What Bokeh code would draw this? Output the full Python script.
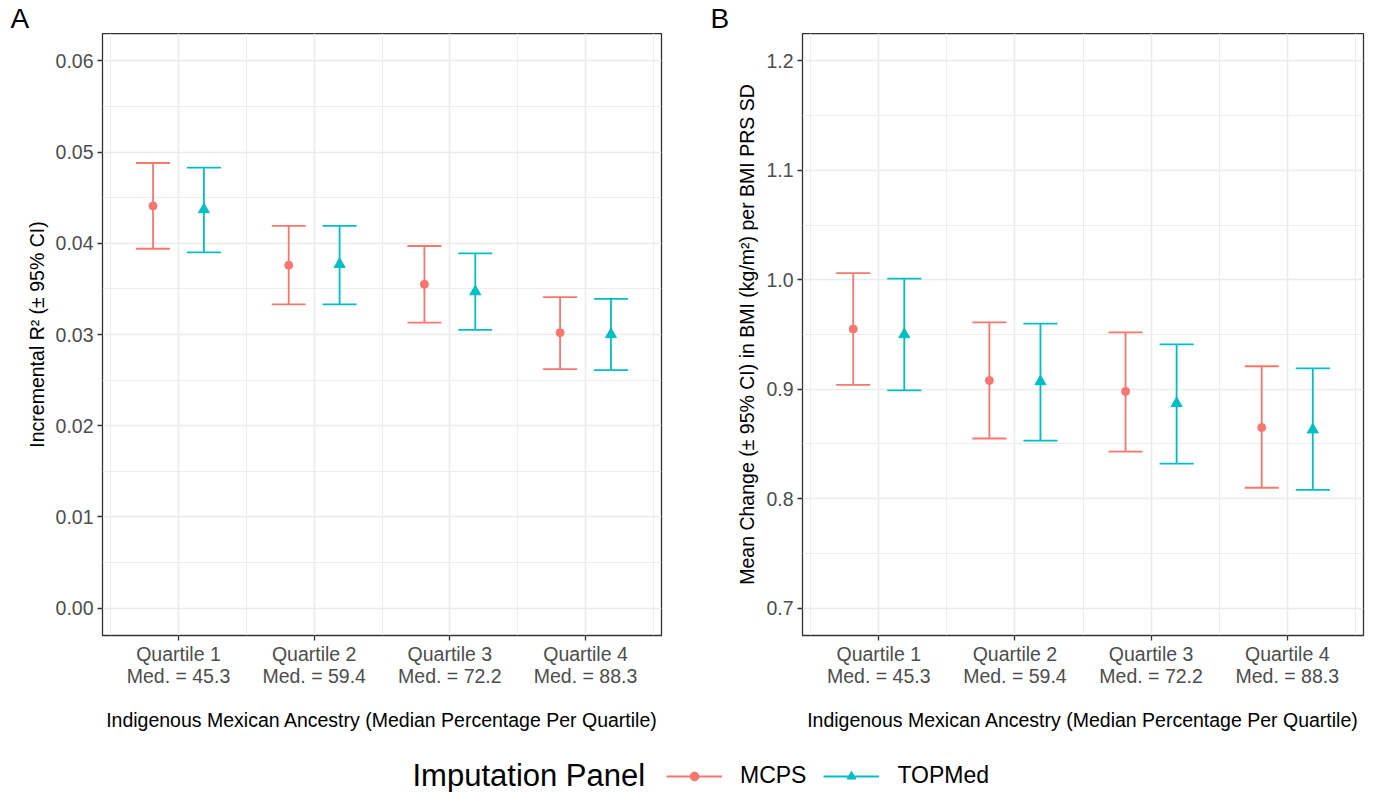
from bokeh.plotting import figure
from bokeh.models import (ColumnDataSource, FixedTicker, Range1d, Label, Legend,
                          LegendItem, NumeralTickFormatter)
from bokeh.layouts import column, row
from bokeh.embed import file_html
from bokeh.resources import INLINE

# ---------------- data ----------------
quartiles = [1, 2, 3, 4]
quartile_names = ["Quartile 1", "Quartile 2", "Quartile 3", "Quartile 4"]
medians = ["45.3", "59.4", "72.2", "88.3"]
panels = ["MCPS", "TOPMed"]

# Panel A: incremental R2
mcps_r2 = [0.0441, 0.0376, 0.0355, 0.0302]
mcps_r2_lo = [0.0394, 0.0333, 0.0313, 0.0262]
mcps_r2_hi = [0.0488, 0.0419, 0.0397, 0.0341]
topmed_r2 = [0.0437, 0.0377, 0.0347, 0.0300]
topmed_r2_lo = [0.0390, 0.0333, 0.0305, 0.0261]
topmed_r2_hi = [0.0483, 0.0419, 0.0389, 0.0339]

# Panel B: mean change in BMI per PRS SD
mcps_beta = [0.955, 0.908, 0.898, 0.865]
mcps_beta_lo = [0.904, 0.855, 0.843, 0.810]
mcps_beta_hi = [1.006, 0.961, 0.952, 0.921]
topmed_beta = [0.950, 0.907, 0.887, 0.863]
topmed_beta_lo = [0.899, 0.853, 0.832, 0.808]
topmed_beta_hi = [1.001, 0.960, 0.941, 0.919]

r2_ticks = [0.00, 0.01, 0.02, 0.03, 0.04, 0.05, 0.06]
beta_ticks = [0.7, 0.8, 0.9, 1.0, 1.1, 1.2]

# ---------------- style ----------------
colors = {"MCPS": "#F8766D", "TOPMed": "#00BFC4"}
markers = {"MCPS": "circle", "TOPMed": "triangle"}
msize = {"MCPS": 8, "TOPMed": 11}
dodge = {"MCPS": -0.1875, "TOPMed": 0.1875}
cap_half = 0.125
FONT = "Liberation Sans"
TICK_COLOR = "#4D4D4D"
BORDER = "#333333"
GRID = "#EBEBEB"
W = 1385


def make_panel(series, yticks, yrange, fmt, ylabel, width, mb_left, mb_right):
    minor_y = [(a + b) / 2 for a, b in zip(yticks[:-1], yticks[1:])]
    p = figure(width=width, height=712,
               x_range=Range1d(0.44, 4.56), y_range=Range1d(*yrange),
               output_backend="svg", toolbar_location=None,
               min_border_left=mb_left, min_border_right=mb_right,
               min_border_top=0, min_border_bottom=110)
    p.background_fill_color = "white"
    p.border_fill_color = "white"
    p.outline_line_color = BORDER
    p.outline_line_width = 1.3

    p.xaxis.ticker = FixedTicker(ticks=quartiles, minor_ticks=[0.5, 1.5, 2.5, 3.5, 4.5])
    p.yaxis.ticker = FixedTicker(ticks=yticks, minor_ticks=minor_y)
    p.xaxis.major_label_overrides = {q: f"{n}\nMed. = {m}" for q, n, m in
                                     zip(quartiles, quartile_names, medians)}
    p.yaxis.formatter = NumeralTickFormatter(format=fmt)

    for ax in (p.xaxis, p.yaxis):
        ax.axis_line_color = None
        ax.major_tick_line_color = BORDER
        ax.major_tick_line_width = 1.3
        ax.major_tick_out = 5
        ax.major_tick_in = 0
        ax.minor_tick_line_color = None
        ax.major_label_text_font = FONT
        ax.major_label_text_font_size = "19.5px"
        ax.major_label_text_color = TICK_COLOR
        ax.major_label_text_line_height = 1.02
        ax.axis_label_text_font = FONT
        ax.axis_label_text_font_size = "19.5px"
        ax.axis_label_text_font_style = "normal"
        ax.axis_label_text_color = "black"
    p.xaxis.major_label_standoff = 2
    p.yaxis.major_label_standoff = 4
    p.xaxis.axis_label = "Indigenous Mexican Ancestry (Median Percentage Per Quartile)"
    p.xaxis.axis_label_standoff = 19
    p.yaxis.axis_label = ylabel
    p.yaxis.axis_label_standoff = 5

    for g in (p.xgrid, p.ygrid):
        g.grid_line_color = GRID
        g.grid_line_width = 1.6
        g.minor_grid_line_color = GRID
        g.minor_grid_line_width = 0.9

    for name, (est, lo, hi) in series.items():
        xs = [q + dodge[name] for q in quartiles]
        src = ColumnDataSource(dict(
            x=xs, y=est, lo=lo, hi=hi,
            x0=[x - cap_half for x in xs], x1=[x + cap_half for x in xs]))
        c = colors[name]
        p.segment(x0="x", y0="lo", x1="x", y1="hi", source=src, line_color=c, line_width=1.8)
        p.segment(x0="x0", y0="hi", x1="x1", y1="hi", source=src, line_color=c, line_width=1.8)
        p.segment(x0="x0", y0="lo", x1="x1", y1="lo", source=src, line_color=c, line_width=1.8)
        p.scatter(x="x", y="y", source=src, marker=markers[name], size=msize[name],
                  fill_color=c, line_color=c)
    return p


def strip(height):
    s = figure(width=W, height=height, x_range=Range1d(0, W), y_range=Range1d(0, height),
               output_backend="svg", toolbar_location=None, min_border=0)
    s.axis.visible = False
    s.grid.visible = False
    s.outline_line_color = None
    s.background_fill_color = "white"
    s.border_fill_color = "white"
    return s


# ---------------- panel letters ----------------
top = strip(33)
for letter, lx in (("A", 10), ("B", 710)):
    top.add_layout(Label(x=lx, y=15, text=letter, text_font=FONT, text_font_size="28px",
                         text_color="black", text_baseline="middle", text_align="left"))

pA = make_panel({"MCPS": (mcps_r2, mcps_r2_lo, mcps_r2_hi),
                 "TOPMed": (topmed_r2, topmed_r2_lo, topmed_r2_hi)},
                r2_ticks, (-0.003, 0.063), "0.00",
                "Incremental R\u00b2 (\u00b1 95% CI)", 700, 102, 39)
pB = make_panel({"MCPS": (mcps_beta, mcps_beta_lo, mcps_beta_hi),
                 "TOPMed": (topmed_beta, topmed_beta_lo, topmed_beta_hi)},
                beta_ticks, (0.675, 1.225), "0.0",
                "Mean Change (\u00b1 95% CI) in BMI (kg/m\u00b2) per BMI PRS SD", 685, 102, 22)

# ---------------- legend strip ----------------
lg = strip(47)
items = []
for name, est in (("MCPS", mcps_beta), ("TOPMed", topmed_beta)):
    lsrc = ColumnDataSource(dict(x=quartiles, y=est))
    lr = lg.line(x="x", y="y", source=lsrc, line_color=colors[name], line_width=2,
                 visible=False)
    sr = lg.scatter(x="x", y="y", source=lsrc, marker=markers[name], size=msize[name] + 3,
                    fill_color=colors[name], line_color=colors[name], visible=False)
    items.append(LegendItem(label=name, renderers=[lr, sr]))
legend = Legend(items=items, orientation="horizontal", location=(666, 3),
                glyph_width=56, glyph_height=22, label_standoff=18, spacing=17,
                padding=0, margin=0, border_line_color=None, background_fill_alpha=0,
                inactive_fill_alpha=0,
                label_text_font=FONT, label_text_font_size="23px",
                label_text_color="black", label_height=22)
lg.add_layout(legend, "center")
lg.add_layout(Label(x=412, y=17, text="Imputation Panel",
                    text_font=FONT, text_font_size="31px", text_color="black",
                    text_baseline="middle", text_align="left"))

layout = column(top, row(pA, pB), lg)
open("out.html", "w").write(file_html(layout, INLINE))
